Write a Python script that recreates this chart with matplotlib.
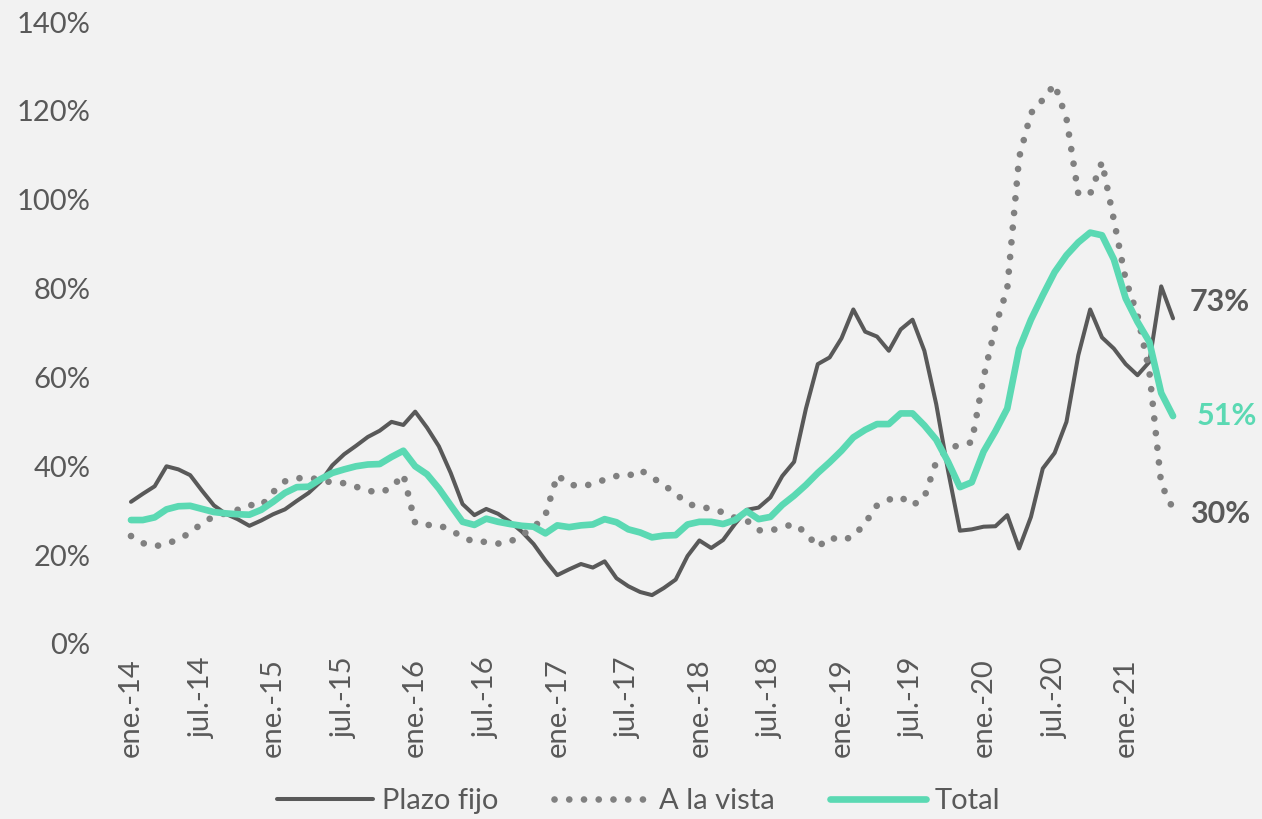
import matplotlib.pyplot as plt

plt.rcParams['font.family'] = ['Lato', 'DejaVu Sans']

# variacion interanual, mensual ene-14 .. may-21
plazo_fijo = [32, 33.8, 35.5, 40, 39.3, 38, 34.5, 31.2, 29.3, 28.1,
              26.6, 27.8, 29.2, 30.3, 32.2, 34, 36.5, 40.2, 42.7, 44.6,
              46.6, 48, 50, 49.3, 52.3, 48.7, 44.5, 38.5, 31.5, 29,
              30.4, 29.3, 27.5, 25.3, 22.5, 18.8, 15.5, 16.8, 18, 17.2,
              18.6, 14.8, 13, 11.7, 11, 12.6, 14.5, 19.8, 23.3, 21.6,
              23.4, 27, 30.2, 30.7, 33, 37.8, 41, 53, 63, 64.5,
              68.8, 75.3, 70.3, 69.2, 66, 70.8, 73, 66, 54, 39,
              25.5, 25.8, 26.4, 26.5, 29, 21.5, 28.6, 39.5, 43, 50,
              65, 75.3, 69, 66.5, 63, 60.5, 63.5, 80.5, 73.3]

a_la_vista = [24.3, 22.7, 22, 22.5, 23.6, 25, 27.2, 28.7, 29.4, 30.2,
              31.3, 31.1, 34.2, 36.6, 37.3, 37.4, 37, 36.3, 36.2, 35.4,
              34.5, 34.1, 35.1, 38.2, 27.2, 26.8, 26.7, 25.7, 24, 23,
              23, 22.6, 23, 24.5, 26.2, 29, 38, 35.9, 35.5, 36,
              37, 37.8, 37.8, 39.2, 37.5, 35.8, 33.8, 31.6, 30.8, 30.5,
              29.6, 28.4, 27.8, 25.6, 25.5, 26.3, 27, 25, 21.8, 24,
              23.3, 24.2, 27.2, 31.2, 32.5, 33.1, 31.2, 33, 41, 44,
              44.8, 45.4, 60, 71.5, 80, 109.5, 119.5, 122.5, 126, 118.3,
              101.3, 101.3, 108.5, 95.5, 82, 74, 61.3, 36, 30.4]

total = [27.9, 27.9, 28.5, 30.3, 31, 31.1, 30.4, 29.7, 29.4, 29.2,
         29.1, 30.2, 32, 34, 35.3, 35.4, 37.1, 38.5, 39.3, 40,
         40.4, 40.5, 42.1, 43.5, 40, 38.2, 35, 31.2, 27.5, 26.8,
         28.2, 27.5, 27, 26.6, 26.4, 24.9, 26.7, 26.3, 26.7, 26.9,
         28.1, 27.4, 25.8, 25.1, 24, 24.4, 24.5, 26.9, 27.5, 27.5,
         27, 27.9, 29.9, 28.1, 28.6, 31.3, 33.4, 35.8, 38.5, 40.9,
         43.5, 46.5, 48.2, 49.5, 49.5, 51.9, 51.9, 49.2, 46, 41,
         35.3, 36.4, 43.3, 47.9, 53, 66.4, 73, 78.5, 83.7, 87.5,
         90.4, 92.6, 92, 86.6, 77.8, 72.5, 68, 56.5, 51.3]

tick_labels = ['ene.-14', 'jul.-14', 'ene.-15', 'jul.-15', 'ene.-16', 'jul.-16',
               'ene.-17', 'jul.-17', 'ene.-18', 'jul.-18', 'ene.-19', 'jul.-19',
               'ene.-20', 'jul.-20', 'ene.-21']
tick_pos = list(range(0, 6 * len(tick_labels), 6))
y_ticks = [0, 20, 40, 60, 80, 100, 120, 140]

gris = '#595959'
verde = '#5BD9B3'
bg = '#F2F2F2'

fig = plt.figure(figsize=(12.62, 8.19), dpi=100, facecolor=bg)
ax = fig.add_axes([0.0991, 0.2137, 0.8351, 0.7594])
ax.set_facecolor(bg)

x = list(range(len(total)))
ax.plot(x, plazo_fijo, color=gris, lw=2.9, label='Plazo fijo',
        solid_capstyle='round', solid_joinstyle='round')
ax.plot(x, a_la_vista, color='#808080', lw=4.8, linestyle=(0, (0.01, 2.2)),
        dash_capstyle='round', label='A la vista')
ax.plot(x, total, color=verde, lw=4.8, label='Total',
        solid_capstyle='round', solid_joinstyle='round')

ax.set_xlim(-0.5, len(total) - 0.5)
ax.set_ylim(0, 140)
ax.set_yticks(y_ticks)
ax.set_yticklabels([f'{v}%' for v in y_ticks])
ax.set_xticks(tick_pos)
ax.set_xticklabels(tick_labels, rotation=90)
ax.tick_params(length=0, colors=gris, labelsize=21)
ax.tick_params(axis='y', pad=25)
ax.tick_params(axis='x', pad=10)
for s in ax.spines.values():
    s.set_visible(False)

# etiquetas del ultimo dato
ax.annotate(f'{round(plazo_fijo[-1])}%', xy=(x[-1], plazo_fijo[-1]), xytext=(12, 12),
            textcoords='offset points', va='center', ha='left', color=gris,
            fontsize=22, fontweight='bold', annotation_clip=False)
ax.annotate(f'{round(total[-1])}%', xy=(x[-1], total[-1]), xytext=(17, 0),
            textcoords='offset points', va='center', ha='left', color=verde,
            fontsize=22, fontweight='bold', annotation_clip=False)
ax.annotate(f'{round(a_la_vista[-1])}%', xy=(x[-1], a_la_vista[-1]), xytext=(12, -4),
            textcoords='offset points', va='center', ha='left', color=gris,
            fontsize=22, fontweight='bold', annotation_clip=False)

fig.legend(loc='center', bbox_to_anchor=(0.506, 0.022), ncol=3, frameon=False,
           fontsize=21, handlelength=3.3, columnspacing=1.9, handletextpad=0.3,
           labelcolor=gris)

fig.savefig('out.png', dpi=100, facecolor=bg)
